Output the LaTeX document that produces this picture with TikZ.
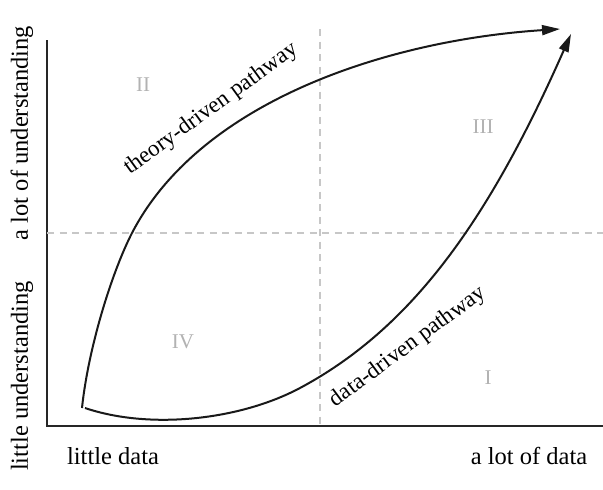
\documentclass[tikz,border=0pt]{standalone}
\usepackage{fontspec}
\setmainfont{Liberation Serif}
\usetikzlibrary{arrows.meta}
\begin{document}
\begin{tikzpicture}[x=1pt,y=-1pt,
  axisline/.style={line width=1.4pt,black!85},
  gridline/.style={line width=1.2pt,color=black!22,dash pattern=on 7pt off 5.5pt},
  pathline/.style={line width=2pt,black!90,-{Triangle[length=18pt,width=10pt]}},
  lbl/.style={font=\fontsize{24.5}{28}\selectfont,inner sep=0pt},
  plbl/.style={font=\fontsize{23}{27}\selectfont,inner sep=0pt},
  quad/.style={font=\fontsize{21}{25}\selectfont,text=black!30,inner sep=0pt}]
\useasboundingbox (0,0) rectangle (603,490);
% axes
\coordinate (ytop) at (47,40);
\coordinate (orig) at (47,426);
\coordinate (xend) at (603,426);
\draw[axisline] (ytop) -- (orig) -- (xend);
% dashed quadrant lines
\coordinate (hl) at (47,233);
\coordinate (hr) at (603,233);
\coordinate (vt) at (320,29);
\coordinate (vb) at (320,424);
\draw[gridline] (hl) -- (hr);
\draw[gridline] (vt) -- (vb);
% pathways
\coordinate (ts) at (82,408);
\coordinate (tm) at (132,233);
\coordinate (te) at (560,29);
\coordinate (ds) at (85,408);
\coordinate (dm) at (300,388);
\coordinate (de) at (571,34);
\draw[pathline] (ts) .. controls (88,350) and (111,274) .. (tm)
  .. controls (201,100) and (390,40) .. (te);
\draw[pathline] (ds) .. controls (150,430) and (240,420) .. (dm)
  .. controls (414,327) and (490,217) .. (de);
% pathway labels
\node[plbl,rotate=36] (tlab) at (211,109) {theory-driven pathway};
\node[plbl,rotate=36.5] (dlab) at (408,347) {data-driven pathway};
% quadrant labels
\node[quad] (q2) at (143,85) {II};
\node[quad] (q3) at (483,127) {III};
\node[quad] (q4) at (183,342) {IV};
\node[quad] (q1) at (488,378) {I};
% axis labels
\node[lbl,rotate=90] (yhi) at (22,133) {a lot of understanding};
\node[lbl,rotate=90] (ylo) at (22,376) {little understanding};
\node[lbl] (xlo) at (113,456) {little data};
\node[lbl] (xhi) at (529,456) {a lot of data};
\end{tikzpicture}
\end{document}
